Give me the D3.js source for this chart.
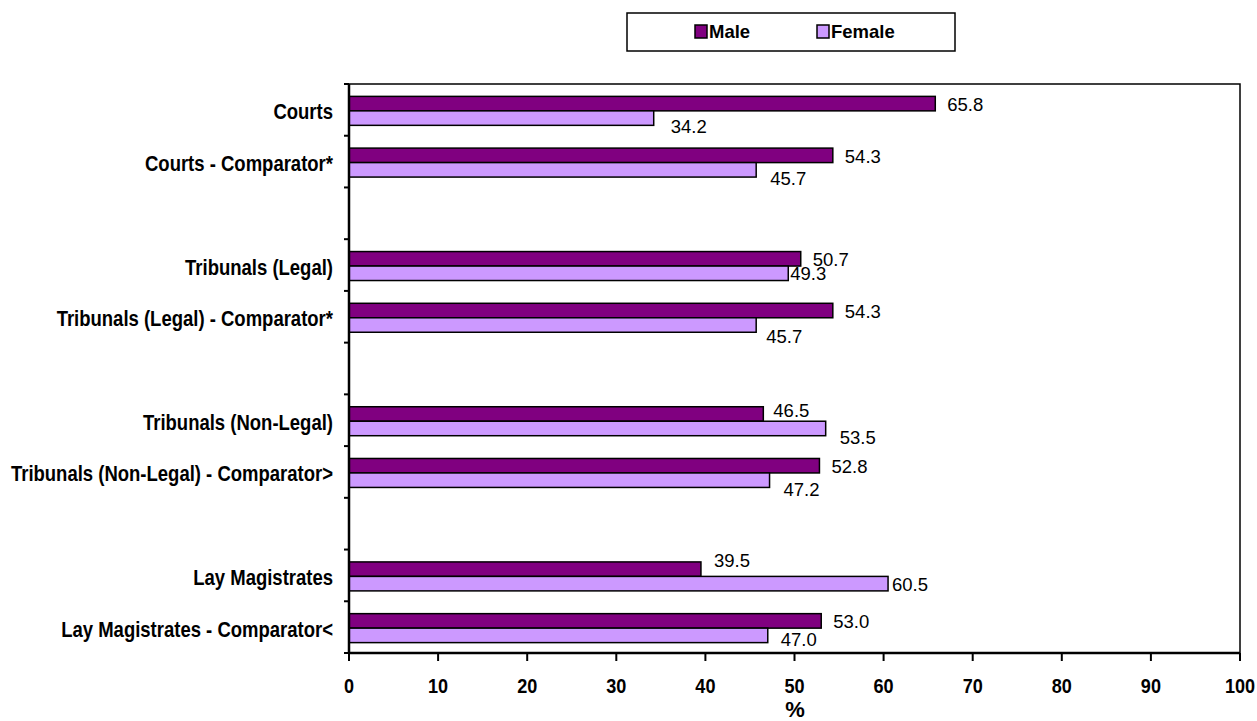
<!DOCTYPE html>
<html><head><meta charset="utf-8">
<script src="https://cdn.jsdelivr.net/npm/d3@7/dist/d3.min.js"></script>
<style>body{margin:0;background:#fff}svg{display:block}</style>
</head><body>
<svg id="c" width="1257" height="721"></svg>
<script>
const categories = ["Courts","Courts - Comparator*","","Tribunals (Legal)","Tribunals (Legal) - Comparator*","","Tribunals (Non-Legal)","Tribunals (Non-Legal) - Comparator>","","Lay Magistrates","Lay Magistrates - Comparator<"];
const male   = [65.8, 54.3, null, 50.7, 54.3, null, 46.5, 52.8, null, 39.5, 53.0];
const female = [34.2, 45.7, null, 49.3, 45.7, null, 53.5, 47.2, null, 60.5, 47.0];
const seriesNames = ["Male","Female"];
const xTicks = [0,10,20,30,40,50,60,70,80,90,100];
const xTitle = "%";

const colors = {Male:"#800080", Female:"#CC99FF"};
const svg = d3.select("#c");
const pL = 349, pR = 1240, pT = 84, pB = 653;
const FONT = "'Liberation Sans', Arial, sans-serif";

const x = d3.scaleLinear().domain([0,100]).range([pL,pR]);
const y = d3.scaleBand().domain(d3.range(categories.length)).range([pT,pB]).paddingInner(0.44).paddingOuter(0.22);
const sub = d3.scaleBand().domain(seriesNames).range([0,y.bandwidth()]);

// frame
svg.append("rect").attr("x",pL).attr("y",pT).attr("width",pR-pL).attr("height",pB-pT)
  .attr("fill","none").attr("stroke","#000").attr("stroke-width",1.5);

function squeeze(sel, k){ sel.each(function(){ const w=this.getComputedTextLength(); d3.select(this).attr("textLength",w*k).attr("lengthAdjust","spacingAndGlyphs"); }); }

// y axis ticks at category boundaries
const bounds = d3.range(categories.length+1).map(i => pT + i*(pB-pT)/categories.length);
svg.append("g").selectAll("line").data(bounds).join("line")
  .attr("x1",pL-5).attr("x2",pL).attr("y1",d=>d).attr("y2",d=>d).attr("stroke","#000").attr("stroke-width",2);

// bars
const rows = categories.map((c,i)=>({i, c, Male:male[i], Female:female[i]})).filter(d=>d.Male!=null);
const g = svg.append("g");
rows.forEach(d=>{
  seriesNames.forEach(s=>{
    g.append("rect").attr("x",x(0)).attr("y",y(d.i)+sub(s)+1).attr("width",x(d[s])-x(0)).attr("height",sub.bandwidth())
      .attr("fill",colors[s]).attr("stroke","#000").attr("stroke-width",1.5);
  });
});

// value labels
const nudge = {"0|Female":[17,8],"3|Female":[2,0],"4|Female":[10,12],"6|Male":[10,-3],"9|Female":[4,1],"9|Male":[13,-9],"10|Female":[13,4]};
const vl = svg.append("g").attr("font-family",FONT).attr("font-size",18.5).attr("fill","#000");
rows.forEach(d=>{
  seriesNames.forEach(s=>{
    const def = s==="Male" ? [12,1] : [14,9];
    const n = nudge[d.i+"|"+s] || def;
    const cy = y(d.i)+sub(s)+1+sub.bandwidth()/2;
    vl.append("text").attr("x",x(d[s])+n[0]).attr("y",cy+n[1]).attr("dy","0.35em").text(d[s].toFixed(1));
  });
});

// category labels
const cl = svg.append("g").attr("font-family",FONT).attr("font-weight","bold").attr("font-size",21.5).attr("text-anchor","end");
categories.forEach((c,i)=>{
  if(!c) return;
  cl.append("text").attr("x",333).attr("y",y(i)+y.bandwidth()/2+2).attr("dy","0.35em").text(c);
});
squeeze(cl.selectAll("text"),0.86);

// axes
svg.append("line").attr("x1",pL).attr("x2",pR).attr("y1",pB).attr("y2",pB).attr("stroke","#000").attr("stroke-width",2.5);
svg.append("line").attr("x1",pL).attr("x2",pL).attr("y1",pT).attr("y2",pB).attr("stroke","#000").attr("stroke-width",2.5);
svg.append("g").selectAll("line").data(xTicks).join("line")
  .attr("x1",d=>x(d)).attr("x2",d=>x(d)).attr("y1",pB).attr("y2",pB+8).attr("stroke","#000").attr("stroke-width",2);
const xl = svg.append("g").attr("font-family",FONT).attr("font-weight","bold").attr("font-size",21).attr("text-anchor","middle");
xl.selectAll("text").data(xTicks).join("text").attr("x",d=>x(d)).attr("y",693).text(d=>d);
squeeze(xl.selectAll("text"),0.86);
svg.append("text").attr("x",795).attr("y",717).attr("font-family",FONT).attr("font-weight","bold").attr("font-size",22).attr("text-anchor","middle").text(xTitle);

// legend
const lg = svg.append("g");
lg.append("rect").attr("x",627).attr("y",13).attr("width",328).attr("height",38).attr("fill","#fff").attr("stroke","#000").attr("stroke-width",1.5);
const lx = {Male:695, Female:817};
seriesNames.forEach(s=>{
  lg.append("rect").attr("x",lx[s]).attr("y",25).attr("width",12).attr("height",13).attr("fill",colors[s]).attr("stroke","#000").attr("stroke-width",1.5);
  lg.append("text").attr("x",lx[s]+14).attr("y",38).attr("font-family",FONT).attr("font-weight","bold").attr("font-size",18.5).text(s);
});
</script>
</body></html>
